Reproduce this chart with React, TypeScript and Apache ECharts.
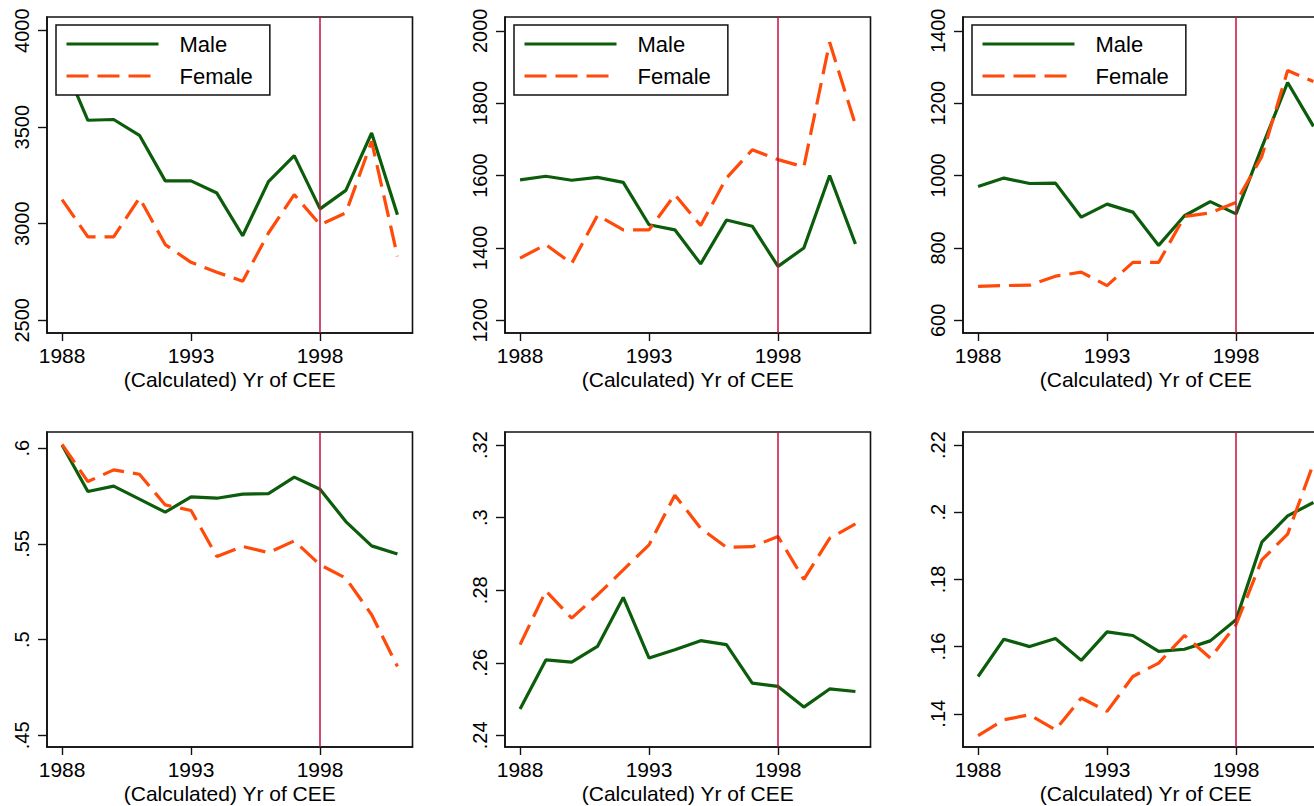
import React, { useEffect, useRef } from "react";
import * as echarts from "echarts";

const years = [1988, 1989, 1990, 1991, 1992, 1993, 1994, 1995, 1996, 1997, 1998, 1999, 2000, 2001];
const xTicks = [1988, 1993, 1998];
const xTitle = "(Calculated) Yr of CEE";
const legendNames = ["Male", "Female"];
const breakYear = 1998;

const p1Male = [3850, 3536, 3540, 3458, 3222, 3222, 3159, 2938, 3218, 3353, 3077, 3173, 3470, 3047];
const p1Female = [3125, 2932, 2932, 3134, 2892, 2800, 2749, 2702, 2952, 3151, 2995, 3056, 3427, 2831];
const p2Male = [1588, 1598, 1587, 1595, 1581, 1464, 1450, 1356, 1477, 1460, 1349, 1400, 1600, 1411];
const p2Female = [1372, 1409, 1357, 1490, 1450, 1450, 1547, 1462, 1593, 1671, 1644, 1624, 1968, 1740];
const p3Male = [970, 993, 978, 979, 885, 921, 899, 807, 889, 928, 894, 1078, 1257, 1136];
const p3Female = [694, 696, 697, 722, 733, 696, 760, 760, 887, 897, 926, 1053, 1290, 1260];
const p4Male = [0.6017, 0.5774, 0.5802, 0.5734, 0.5666, 0.5746, 0.5739, 0.576, 0.5763, 0.5849, 0.5786, 0.5617, 0.549, 0.5448];
const p4Female = [0.602, 0.5826, 0.5887, 0.5864, 0.5704, 0.5675, 0.5434, 0.5487, 0.5455, 0.5516, 0.5391, 0.5321, 0.513, 0.486];
const p5Male = [0.2473, 0.2608, 0.2602, 0.2645, 0.278, 0.2613, 0.2636, 0.2661, 0.265, 0.2544, 0.2535, 0.2478, 0.2528, 0.2521];
const p5Female = [0.265, 0.2798, 0.2723, 0.2787, 0.2856, 0.2925, 0.3062, 0.2971, 0.2918, 0.292, 0.2948, 0.283, 0.2943, 0.2983];
const p6Male = [0.1511, 0.1622, 0.16, 0.1624, 0.1559, 0.1644, 0.1633, 0.1586, 0.1592, 0.1617, 0.168, 0.1911, 0.1989, 0.2029];
const p6Female = [0.1335, 0.1382, 0.1397, 0.1352, 0.1447, 0.1407, 0.1511, 0.1551, 0.1633, 0.1566, 0.1665, 0.1858, 0.1935, 0.2145];

const p1Ticks = [2500, 3000, 3500, 4000];
const p2Ticks = [1200, 1400, 1600, 1800, 2000];
const p3Ticks = [600, 800, 1000, 1200, 1400];
const p4Ticks = [0.45, 0.5, 0.55, 0.6];
const p5Ticks = [0.24, 0.26, 0.28, 0.3, 0.32];
const p6Ticks = [0.14, 0.16, 0.18, 0.2, 0.22];

const p1Range = [2434, 4071];
const p2Range = [1165, 2038];
const p3Range = [565, 1438];
const p4Range = [0.4439, 0.6085];
const p5Range = [0.2368, 0.3236];
const p6Range = [0.1301, 0.2239];

const panels = [
  { male: p1Male, female: p1Female, ticks: p1Ticks, range: p1Range, legend: true },
  { male: p2Male, female: p2Female, ticks: p2Ticks, range: p2Range, legend: true },
  { male: p3Male, female: p3Female, ticks: p3Ticks, range: p3Range, legend: true },
  { male: p4Male, female: p4Female, ticks: p4Ticks, range: p4Range, legend: false },
  { male: p5Male, female: p5Female, ticks: p5Ticks, range: p5Range, legend: false },
  { male: p6Male, female: p6Female, ticks: p6Ticks, range: p6Range, legend: false },
];

const FONT = "'Liberation Sans', Arial, Helvetica, sans-serif";
const GREEN = "#0b5d0b";
const ORANGE = "#ff4a0a";
const RED = "#c4113f";
const colLefts = [47, 505, 963];
const rowTops = [17, 432];
const gridW = 365.5;
const gridH = 316;

function fmt(v: number): string {
  return String(v).replace(/^0\./, ".");
}

export default function App() {
  const ref = useRef<HTMLDivElement>(null);
  useEffect(() => {
    if (!ref.current) return;
    const chart = echarts.init(ref.current, null, { renderer: "svg" });
    const grid: any[] = [];
    const xAxis: any[] = [];
    const yAxis: any[] = [];
    const series: any[] = [];
    const legend: any[] = [];
    panels.forEach((p, i) => {
      const col = i % 3;
      const row = Math.floor(i / 3);
      grid.push({
        left: colLefts[col],
        top: rowTops[row],
        width: gridW,
        height: gridH - row,
        show: true,
        borderColor: "#111",
        borderWidth: 1.6,
        backgroundColor: "#fff",
        containLabel: false,
      });
      xAxis.push({
        type: "value",
        gridIndex: i,
        min: 1987.416,
        max: 2001.584,
        axisLine: { show: true, onZero: false, lineStyle: { color: "#111", width: 1.6 } },
        axisTick: { show: true, length: 8, customValues: xTicks, lineStyle: { color: "#111", width: 1.4 } },
        axisLabel: {
          customValues: xTicks,
          fontSize: 21,
          lineHeight: 16,
          margin: 14,
          color: "#000",
          fontFamily: FONT,
          formatter: (v: number) => String(v),
        },
        splitLine: { show: false },
        name: xTitle,
        nameLocation: "middle",
        nameGap: 37.5,
        nameMoveOverlap: false,
        nameTextStyle: { fontSize: 21, lineHeight: 18, color: "#000", fontFamily: FONT, verticalAlign: "top" },
      });
      yAxis.push({
        type: "value",
        gridIndex: i,
        min: p.range[0],
        max: p.range[1],
        axisLine: { show: true, onZero: false, lineStyle: { color: "#111", width: 1.6 } },
        axisTick: { show: true, length: 9, customValues: p.ticks, lineStyle: { color: "#111", width: 1.4 } },
        axisLabel: {
          customValues: p.ticks,
          rotate: 90,
          fontSize: 20,
          margin: 15,
          color: "#000",
          fontFamily: FONT,
          formatter: (v: number) => fmt(v),
        },
        splitLine: { show: false },
      });
      series.push({
        type: "line",
        name: "xline",
        xAxisIndex: i,
        yAxisIndex: i,
        data: [],
        z: 1,
        silent: true,
        markLine: {
          silent: true,
          symbol: ["none", "none"],
          label: { show: false },
          lineStyle: { color: RED, width: 1.5, type: "solid" },
          data: [{ xAxis: breakYear }],
        },
      });
      series.push({
        type: "line",
        name: legendNames[0],
        xAxisIndex: i,
        yAxisIndex: i,
        data: years.map((y, k) => [y, p.male[k]]),
        symbol: "none",
        showSymbol: false,
        z: 2,
        lineStyle: { color: GREEN, width: 3.2 },
        itemStyle: { color: GREEN },
      });
      series.push({
        type: "line",
        name: legendNames[1],
        xAxisIndex: i,
        yAxisIndex: i,
        data: years.map((y, k) => [y, p.female[k]]),
        symbol: "none",
        showSymbol: false,
        z: 3,
        lineStyle: { color: ORANGE, width: 3.2, type: [22, 9] },
        itemStyle: { color: ORANGE },
      });
      if (p.legend) {
        legend.push({
          data: legendNames,
          orient: "vertical",
          left: colLefts[col] + 9,
          top: 25,
          itemWidth: 92,
          itemHeight: 14,
          itemGap: 10,
          padding: [8, 17, 8, 9],
          borderColor: "#111",
          borderWidth: 1.5,
          borderRadius: 0,
          backgroundColor: "#fff",
          selectedMode: false,
          z: 10,
          itemStyle: { opacity: 0 },
          lineStyle: { width: 3 },
          textStyle: { fontSize: 22, color: "#000", fontFamily: FONT, padding: [0, 0, 0, 16] },
        });
      }
    });
    chart.setOption({
      animation: false,
      backgroundColor: "#fff",
      textStyle: { fontFamily: FONT },
      grid,
      xAxis,
      yAxis,
      series,
      legend,
    });
    return () => chart.dispose();
  }, []);
  return (
    <div style={{ position: "absolute", left: 0, top: 0, width: 1314, height: 806, overflow: "hidden", background: "#fff" }}>
      <div ref={ref} style={{ width: 1340, height: 806 }} />
    </div>
  );
}
